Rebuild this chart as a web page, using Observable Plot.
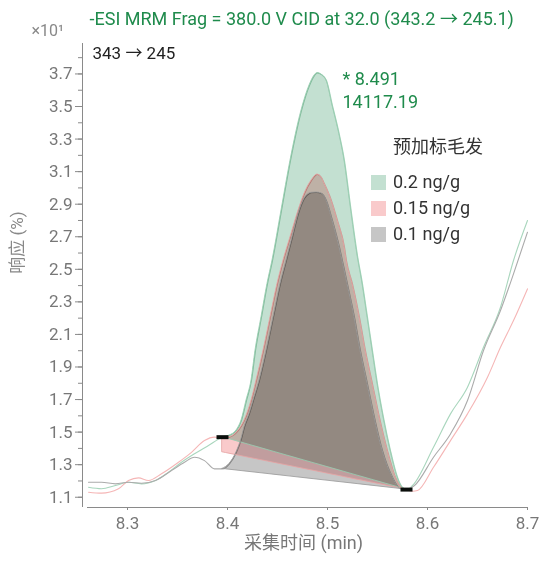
<!DOCTYPE html>
<html><head><meta charset="utf-8">
<script src="https://cdn.jsdelivr.net/npm/d3@7"></script>
<script src="https://cdn.jsdelivr.net/npm/@observablehq/plot@0.6"></script>
<style>
body{margin:0;background:#fff;font-family:Roboto,"Noto Sans CJK SC",sans-serif;}
#wrap{position:relative;width:542px;height:564px;}
#legend{position:absolute;left:371px;top:134px;font-size:18px;color:#333;line-height:26px;}
#legend .ttl{margin-left:22px;margin-bottom:9px;}
#legend .row{display:flex;align-items:center;height:26px;}
#legend .sw{width:15px;height:15px;margin-right:7px;}
</style></head>
<body><div id="wrap"></div>
<script>
// ---- data ----
const titleText = "-ESI MRM Frag = 380.0 V CID at 32.0 (343.2 \u2192 245.1)";
const transitionLabel = "343 \u2192 245";
const scaleLabel = "\u00d710\u00b9";
const xTitle = "采集时间 (min)";
const yTitle = "响应 (%)";
const legendTitle = "预加标毛发";
const seriesNames = ["0.2 ng/g", "0.15 ng/g", "0.1 ng/g"];
const seriesFill = ["#c3e0d1", "#f9cacb", "#c6c6c6"];
const seriesEdge = ["#98cdb0", "#e6a3a3", "#9c9c9c"];
const seriesLine = ["#a9d6bd", "#f5b6b6", "#ababab"];

const xTicks = [8.3, 8.4, 8.5, 8.6, 8.7];
const yTickLabels = ["1.1","1.3","1.5","1.7","1.9","2.1","2.3","2.5","2.7","2.9","3.1","3.3","3.5","3.7"];

const peakRT = 8.491;
const peakArea = "14117.19";

// 0.2 ng/g
const t02 = [8.261,8.274,8.288,8.301,8.314,8.328,8.341,8.354,8.367,8.381,8.395,8.402,8.409,8.414,8.419,8.424,8.428,8.434,8.440,8.445,8.454,8.463,8.474,8.482,8.487,8.490,8.494,8.499,8.505,8.511,8.517,8.523,8.530,8.535,8.540,8.545,8.550,8.556,8.563,8.570,8.575,8.579,8.585,8.606,8.623,8.640,8.656,8.673,8.686,8.700];
const r02 = [1.161,1.152,1.172,1.192,1.182,1.203,1.254,1.315,1.367,1.418,1.469,1.479,1.510,1.571,1.694,1.817,2.001,2.206,2.411,2.554,2.861,3.168,3.475,3.629,3.690,3.706,3.696,3.660,3.506,3.353,3.168,2.892,2.585,2.411,2.206,2.001,1.797,1.591,1.387,1.223,1.160,1.147,1.172,1.407,1.612,1.776,2.021,2.267,2.554,2.800];
// 0.15 ng/g
const t015 = [8.261,8.274,8.291,8.301,8.311,8.321,8.334,8.351,8.364,8.377,8.387,8.395,8.402,8.411,8.417,8.424,8.429,8.436,8.443,8.450,8.456,8.464,8.471,8.477,8.484,8.490,8.494,8.497,8.504,8.510,8.517,8.519,8.525,8.532,8.538,8.545,8.552,8.560,8.568,8.575,8.579,8.585,8.590,8.606,8.623,8.640,8.660,8.673,8.686,8.700];
const r015 = [1.131,1.125,1.152,1.203,1.219,1.203,1.244,1.315,1.376,1.448,1.469,1.465,1.469,1.510,1.571,1.694,1.817,2.001,2.206,2.411,2.554,2.718,2.861,2.964,3.045,3.082,3.064,3.025,2.922,2.800,2.636,2.554,2.411,2.206,2.001,1.797,1.591,1.387,1.223,1.153,1.144,1.137,1.141,1.284,1.448,1.612,1.837,2.021,2.185,2.380];
// 0.1 ng/g
const t01 = [8.261,8.274,8.288,8.301,8.314,8.328,8.344,8.357,8.367,8.377,8.387,8.395,8.402,8.409,8.414,8.417,8.422,8.427,8.432,8.439,8.446,8.453,8.459,8.465,8.471,8.477,8.482,8.484,8.489,8.494,8.499,8.505,8.512,8.516,8.520,8.527,8.533,8.540,8.547,8.555,8.565,8.573,8.579,8.587,8.606,8.623,8.640,8.656,8.673,8.686,8.700];
const r01 = [1.192,1.192,1.182,1.192,1.186,1.203,1.264,1.315,1.346,1.325,1.274,1.274,1.305,1.376,1.459,1.530,1.612,1.714,1.817,2.001,2.206,2.411,2.554,2.697,2.841,2.935,2.966,2.970,2.972,2.966,2.922,2.800,2.636,2.524,2.411,2.206,2.001,1.797,1.591,1.387,1.223,1.152,1.147,1.172,1.346,1.489,1.694,2.001,2.247,2.472,2.728];

// integration baselines (start / end points)
const intStartT = [8.395, 8.395, 8.395];
const intStartR = [1.469, 1.376, 1.274];
const intEndT = [8.579, 8.579, 8.579];
const intEndR = [1.147, 1.147, 1.147];

const xDomain = [8.26, 8.70];
const yDomain = [1.037, 3.887];

// ---- build ----
const traces = [[t02, r02], [t015, r015], [t01, r01]].map(([t, r]) => t.map((v, i) => ({t: v, r: r[i]})));
const areas = traces.map((pts, s) => pts
  .filter(d => d.t >= intStartT[s] - 1e-9 && d.t <= intEndT[s] + 1e-9)
  .map(d => ({t: d.t, r: d.r,
    b: intStartR[s] + (d.t - intStartT[s]) / (intEndT[s] - intStartT[s]) * (intEndR[s] - intStartR[s])})));
const markers = [{t: intStartT[0], r: intStartR[0]}, {t: intEndT[0], r: intEndR[0]}];
const yTicks = yTickLabels.map(Number);
const yMinor = d3.range(11, 39).map(v => v / 10);
const apex = {t: peakRT, r: d3.max(r02)};

const rectSymbol = {draw(ctx) { ctx.moveTo(-6, -2); ctx.lineTo(6, -2); ctx.lineTo(6, 2); ctx.lineTo(-6, 2); ctx.closePath(); }};

const font = "Roboto, 'Noto Sans CJK SC', sans-serif";
const chart = Plot.plot({
  width: 542, height: 564,
  marginLeft: 87, marginRight: 15, marginTop: 43, marginBottom: 57,
  x: {domain: xDomain},
  y: {domain: yDomain},
  style: {fontFamily: font, fontSize: "17px", background: "white", overflow: "visible"},
  marks: [
    ...traces.map((d, s) => Plot.line(d, {x: "t", y: "r", stroke: seriesLine[s], strokeWidth: 1.1, curve: "monotone-x"})),
    ...areas.map((d, s) => Plot.areaY(d, {x: "t", y1: "b", y2: "r", fill: seriesFill[s], curve: "monotone-x", mixBlendMode: "multiply"})),
    ...areas.map((d, s) => Plot.areaY(d, {x: "t", y1: "b", y2: "r", fill: "none", stroke: seriesEdge[s], strokeWidth: 1, strokeOpacity: 0.85, curve: "monotone-x"})),
    Plot.dot(markers, {x: "t", y: "r", symbol: rectSymbol, fill: "#0b0f0c", stroke: "none", r: 4}),
    Plot.ruleY([yDomain[0]], {stroke: "#8a8a8a"}),
    Plot.ruleX([xDomain[0]], {dx: -5, stroke: "#8a8a8a"}),
    Plot.axisY(yTicks, {tickSize: 7, tickPadding: 3, dx: -5, tickFormat: d => d.toFixed(1), fill: "#777", stroke: "#8a8a8a", fontSize: 17, label: null}),
    Plot.axisY(yMinor, {tickSize: 4, tickPadding: 3, dx: -5, tickFormat: () => "", stroke: "#8a8a8a", label: null}),
    Plot.axisX(xTicks, {tickSize: 3, tickPadding: 6, tickFormat: d => d.toFixed(1), fill: "#777", stroke: "#8a8a8a", fontSize: 17, label: null}),
    Plot.text([titleText], {text: d => d, frameAnchor: "top-left", dx: 2, dy: -24, lineAnchor: "middle", textAnchor: "start", fill: "#1f8b4c", fontSize: 18}),
    Plot.text([scaleLabel], {text: d => d, frameAnchor: "top-left", dx: -56, dy: -13, lineAnchor: "middle", textAnchor: "start", fill: "#888", fontSize: 16}),
    Plot.text([transitionLabel], {text: d => d, frameAnchor: "top-left", dx: 5, dy: 10, lineAnchor: "middle", textAnchor: "start", fill: "#222", fontSize: 17}),
    Plot.text([apex], {x: "t", y: "r", text: d => "* " + d.t.toFixed(3), dx: 24, dy: 6, lineAnchor: "middle", textAnchor: "start", fill: "#1f8b4c", fontSize: 18}),
    Plot.text([apex], {x: "t", y: "r", text: () => peakArea, dx: 24, dy: 29, lineAnchor: "middle", textAnchor: "start", fill: "#1f8b4c", fontSize: 18}),
    Plot.text([yTitle], {text: d => d, frameAnchor: "left", dx: -70, dy: -33, lineAnchor: "middle", textAnchor: "middle", rotate: -90, fill: "#888", fontSize: 17}),
    Plot.text([xTitle], {text: d => d, frameAnchor: "bottom", dx: -4, dy: 36, lineAnchor: "middle", textAnchor: "middle", fill: "#777", fontSize: 18})
  ]
});
d3.select(chart).selectAll("g[aria-label=area]").filter(function() {
  const f = this.getAttribute("fill"); return f && f !== "none";
}).style("mix-blend-mode", "multiply");
const wrap = document.getElementById("wrap");
wrap.appendChild(chart);

const legend = document.createElement("div");
legend.id = "legend";
legend.innerHTML = `<div class="ttl">${legendTitle}</div>` +
  seriesNames.map((n, i) => `<div class="row"><div class="sw" style="background:${seriesFill[i]}"></div><span>${n}</span></div>`).join("");
wrap.appendChild(legend);
</script>
</body></html>
